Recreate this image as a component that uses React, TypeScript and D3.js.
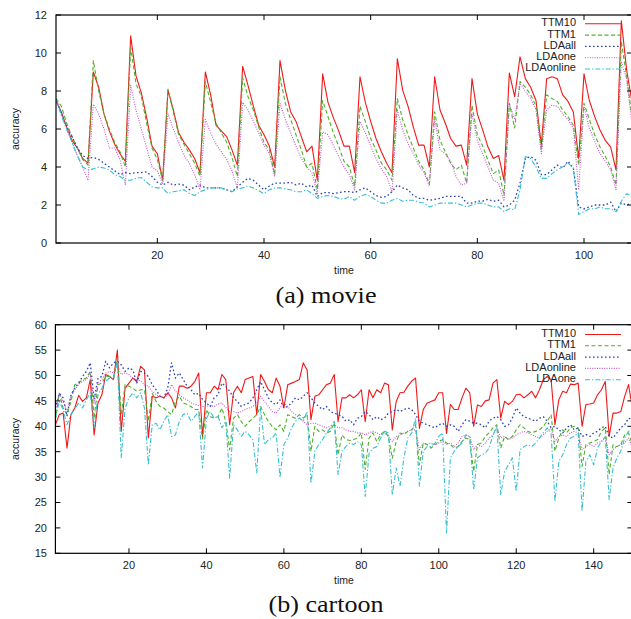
import React from 'react';
import * as d3 from 'd3';

// ---------- (a) movie ----------
const movieTTM10 = [7.5, 6.9, 6.1, 5.4, 5.0, 4.45, 4.2, 9.0, 8.2, 6.8, 5.9, 5.2, 4.7, 4.3, 10.9, 8.8, 7.9, 6.6, 5.1, 4.7, 3.3, 8.05, 7.0, 5.8, 5.3, 4.9, 4.45, 3.7, 9.0, 7.8, 6.2, 5.9, 5.6, 4.9, 4.1, 9.3, 8.3, 7.2, 6.2, 5.7, 5.1, 4.0, 9.6, 8.05, 6.9, 6.4, 5.6, 4.8, 5.1, 3.3, 8.9, 7.4, 6.6, 5.9, 5.1, 5.1, 3.7, 8.75, 7.4, 6.4, 5.5, 4.8, 4.2, 3.7, 9.7, 8.05, 7.2, 6.1, 5.15, 5.15, 4.0, 8.75, 7.0, 6.3, 5.5, 5.1, 5.15, 4.1, 8.65, 6.8, 5.95, 5.05, 4.45, 4.6, 3.3, 8.95, 7.7, 9.8, 8.65, 8.2, 7.5, 5.15, 8.65, 8.75, 8.65, 7.8, 7.45, 6.9, 4.45, 8.9, 7.5, 6.65, 5.95, 5.4, 5.05, 3.85, 11.7, 9.1, 7.4];
const movieTTM1 = [7.6, 7.2, 6.3, 5.6, 5.0, 4.4, 4.1, 9.6, 8.0, 6.8, 6.0, 5.3, 4.8, 4.0, 10.3, 8.4, 7.7, 6.3, 5.0, 4.4, 3.3, 8.1, 6.9, 5.7, 5.2, 4.7, 4.2, 3.5, 8.5, 7.4, 6.3, 5.8, 5.3, 4.5, 3.5, 8.7, 7.7, 7.0, 6.1, 5.3, 4.9, 3.6, 8.75, 7.35, 6.5, 5.7, 4.9, 4.0, 4.2, 2.8, 7.5, 6.65, 5.8, 5.1, 4.3, 4.0, 3.0, 7.2, 6.4, 5.5, 4.9, 4.2, 3.85, 3.3, 7.6, 6.5, 5.7, 5.0, 4.3, 3.85, 3.1, 6.9, 5.4, 4.8, 4.2, 3.85, 4.1, 3.15, 7.25, 5.7, 5.1, 4.35, 3.65, 3.85, 2.5, 7.35, 6.05, 8.5, 8.2, 7.8, 7.2, 4.9, 7.8, 7.6, 7.45, 7.0, 6.65, 6.2, 4.1, 7.35, 6.5, 5.7, 5.05, 4.55, 4.0, 3.05, 10.6, 8.75, 6.65];
const movieLDAall = [7.6, 6.8, 6.1, 5.6, 5.0, 4.6, 4.45, 4.5, 4.4, 4.2, 4.0, 3.8, 3.6, 3.7, 3.65, 3.7, 3.7, 3.75, 3.5, 3.2, 3.05, 3.2, 3.05, 3.1, 3.05, 2.8, 2.95, 3.05, 2.9, 2.9, 2.9, 2.9, 2.8, 2.7, 2.95, 3.2, 3.4, 3.3, 3.05, 2.8, 3.0, 3.15, 3.15, 3.15, 3.2, 3.05, 3.15, 2.95, 3.05, 2.45, 2.65, 2.65, 2.6, 2.65, 2.7, 2.7, 2.65, 2.8, 2.9, 2.7, 2.5, 2.4, 2.45, 2.7, 3.05, 2.9, 2.8, 2.5, 2.35, 2.35, 2.25, 2.3, 2.35, 2.45, 2.45, 2.45, 2.45, 2.1, 2.1, 2.2, 2.2, 2.3, 2.2, 2.25, 1.9, 2.0, 2.25, 3.15, 4.45, 4.55, 4.35, 3.6, 3.6, 3.85, 4.1, 3.95, 4.3, 3.95, 1.9, 1.8, 1.9, 2.0, 2.0, 2.0, 2.15, 1.65, 2.1, 2.0, 2.1];
const movieLDAone = [7.5, 6.8, 6.0, 5.3, 4.6, 4.0, 3.3, 7.3, 6.8, 6.0, 5.0, 5.0, 4.4, 3.05, 8.3, 7.0, 6.0, 5.0, 4.0, 3.8, 3.1, 6.8, 6.0, 5.3, 4.6, 4.2, 3.6, 2.8, 6.5, 5.8, 5.2, 4.8, 4.4, 3.8, 2.9, 7.4, 7.0, 6.4, 5.8, 5.15, 4.7, 3.5, 7.35, 6.5, 5.8, 5.1, 4.45, 4.0, 3.7, 2.6, 5.85, 5.7, 5.15, 4.55, 4.0, 3.6, 2.8, 6.4, 5.8, 5.1, 4.45, 3.9, 3.5, 2.7, 7.0, 5.95, 5.25, 4.7, 4.1, 3.7, 3.0, 6.5, 4.9, 4.7, 4.3, 3.5, 3.05, 3.15, 6.8, 5.4, 4.7, 4.0, 3.3, 3.15, 2.2, 7.35, 6.5, 8.4, 8.0, 7.6, 7.0, 4.7, 7.0, 7.25, 7.2, 6.8, 6.5, 6.05, 2.8, 7.2, 6.05, 5.35, 4.7, 4.3, 3.85, 2.8, 9.55, 8.6, 6.3];
const movieLDAonline = [7.6, 6.7, 6.0, 5.3, 4.6, 4.0, 3.85, 3.9, 4.0, 3.95, 3.85, 3.6, 3.5, 3.3, 3.3, 3.4, 3.45, 3.2, 2.95, 2.9, 2.9, 2.6, 2.7, 2.75, 2.8, 2.6, 2.5, 2.7, 2.8, 2.9, 2.9, 2.9, 2.8, 2.7, 2.85, 2.9, 3.0, 2.9, 2.75, 2.6, 2.8, 2.9, 2.9, 2.85, 2.8, 2.7, 2.7, 2.8, 2.6, 2.35, 2.45, 2.5, 2.45, 2.35, 2.3, 2.45, 2.25, 2.45, 2.55, 2.45, 2.25, 2.1, 2.1, 2.25, 2.35, 2.2, 2.25, 2.25, 2.15, 2.1, 1.9, 2.0, 2.1, 2.1, 2.1, 2.1, 2.0, 1.9, 2.0, 2.1, 2.1, 2.0, 1.9, 1.9, 1.65, 1.8, 1.75, 2.8, 4.55, 4.45, 4.0, 3.4, 3.4, 3.65, 3.85, 4.0, 4.2, 3.95, 1.5, 1.65, 1.8, 1.8, 1.9, 1.8, 1.8, 1.65, 2.2, 2.6, 2.45];
const movieNames = ['TTM10', 'TTM1', 'LDAall', 'LDAone', 'LDAonline'];
const movieXTicks = [20, 40, 60, 80, 100];
const movieYTicks = [0, 2, 4, 6, 8, 10, 12];

// ---------- (b) cartoon ----------
const cartoonTTM10 = [40.3, 42.3, 42.6, 35.7, 42.3, 43.6, 46.1, 44.9, 45.6, 49.2, 38.3, 44.6, 46.2, 50.2, 49.8, 49.2, 55.0, 39.0, 47.5, 48.5, 49.5, 48.8, 51.8, 51.1, 37.7, 45.9, 45.6, 45.9, 45.6, 46.6, 45.6, 43.6, 47.9, 47.9, 47.5, 47.9, 48.8, 50.5, 38.0, 46.6, 46.6, 47.9, 47.2, 50.2, 49.2, 40.3, 46.6, 47.9, 46.6, 49.2, 49.5, 49.8, 42.3, 50.2, 48.8, 47.2, 46.6, 49.5, 47.9, 43.6, 48.2, 48.5, 48.8, 49.2, 52.5, 51.1, 41.3, 45.9, 46.2, 47.2, 48.2, 48.5, 50.2, 40.9, 45.6, 45.6, 46.2, 45.6, 46.2, 47.2, 40.9, 47.2, 45.6, 47.2, 46.6, 48.5, 48.2, 39.3, 44.9, 46.6, 46.7, 47.9, 48.9, 49.5, 39.6, 43.3, 44.6, 44.9, 45.2, 46.6, 46.6, 38.6, 44.3, 43.3, 43.3, 45.6, 47.5, 46.6, 40.0, 44.2, 43.9, 45.0, 45.2, 48.5, 49.2, 41.6, 44.9, 44.3, 44.9, 46.2, 46.3, 45.6, 46.2, 46.9, 45.6, 47.2, 49.2, 49.8, 49.2, 40.3, 45.2, 46.9, 46.6, 48.3, 48.2, 48.5, 40.0, 44.3, 44.4, 44.6, 46.2, 47.2, 48.8, 38.0, 42.6, 42.6, 42.9, 45.9, 48.2, 43.6];
const cartoonTTM1 = [41.3, 46.5, 43.6, 42.3, 44.9, 48.2, 48.5, 49.2, 49.5, 50.8, 41.6, 48.2, 48.5, 49.8, 49.8, 49.5, 53.4, 42.3, 48.2, 47.9, 47.5, 46.9, 47.2, 47.2, 41.0, 46.5, 44.9, 43.9, 43.6, 42.9, 42.3, 44.9, 45.9, 44.6, 44.3, 43.9, 43.3, 43.3, 37.5, 43.3, 41.9, 41.6, 41.9, 43.6, 40.9, 35.4, 41.6, 42.3, 40.9, 40.0, 40.9, 41.6, 42.3, 43.9, 42.3, 40.9, 40.0, 39.3, 40.3, 39.0, 42.3, 41.9, 41.6, 42.3, 41.6, 42.3, 35.1, 40.0, 39.0, 39.3, 38.7, 39.0, 40.6, 34.4, 38.3, 37.4, 37.2, 37.4, 37.7, 38.7, 31.5, 37.7, 38.7, 37.0, 38.4, 39.0, 38.0, 33.7, 37.0, 38.7, 38.4, 39.0, 39.3, 40.3, 32.4, 36.7, 36.4, 35.7, 36.4, 37.0, 37.4, 36.7, 36.4, 35.7, 36.0, 37.0, 37.7, 37.4, 31.1, 36.4, 36.7, 38.0, 38.7, 39.7, 40.3, 35.7, 38.0, 37.4, 38.0, 39.3, 40.3, 39.7, 39.0, 38.7, 39.0, 39.3, 40.0, 41.0, 42.3, 35.1, 37.7, 39.3, 38.7, 39.7, 40.0, 39.7, 32.1, 36.4, 36.7, 37.0, 37.4, 39.0, 39.7, 30.5, 36.4, 36.0, 36.4, 38.3, 38.7, 36.4];
const cartoonLDAall = [43.6, 46.5, 45.6, 42.0, 46.2, 47.5, 48.5, 49.8, 50.8, 52.5, 45.3, 49.5, 49.8, 52.8, 51.5, 52.5, 52.8, 52.1, 50.8, 51.5, 51.1, 48.5, 50.8, 50.5, 49.8, 48.2, 47.2, 45.9, 45.6, 47.5, 52.5, 49.5, 50.5, 49.2, 47.9, 47.2, 46.2, 46.5, 45.3, 44.6, 43.9, 45.6, 46.2, 48.5, 47.9, 46.9, 45.6, 44.9, 43.9, 44.3, 44.6, 45.6, 47.2, 48.8, 47.2, 45.6, 44.6, 44.3, 45.2, 43.6, 43.9, 44.6, 45.6, 45.2, 45.9, 46.6, 45.6, 44.6, 43.9, 43.3, 43.9, 42.9, 42.6, 42.3, 42.0, 41.0, 41.3, 40.3, 41.6, 41.9, 42.9, 42.3, 41.3, 41.9, 41.3, 41.6, 42.6, 42.9, 43.3, 42.9, 43.3, 43.6, 43.3, 42.3, 41.0, 40.6, 40.3, 40.0, 39.7, 40.3, 40.6, 40.0, 40.3, 40.0, 39.0, 40.3, 41.3, 41.0, 40.6, 40.6, 40.3, 39.7, 41.0, 41.6, 41.9, 41.3, 40.0, 40.3, 41.6, 43.6, 42.6, 41.9, 41.6, 41.3, 41.0, 41.6, 41.9, 41.0, 39.7, 40.0, 39.3, 38.7, 39.7, 40.3, 39.3, 39.7, 38.0, 38.4, 38.0, 38.7, 39.0, 39.7, 40.0, 38.0, 37.7, 38.7, 39.7, 40.3, 41.6, 41.3];
const cartoonLDAonline = [43.3, 46.5, 44.9, 42.9, 45.9, 47.2, 48.2, 48.9, 49.2, 50.5, 44.6, 48.5, 49.2, 50.5, 50.8, 50.5, 52.1, 50.2, 50.5, 50.2, 49.5, 49.2, 48.9, 48.2, 47.9, 46.9, 46.2, 45.9, 45.6, 46.2, 48.2, 46.9, 46.2, 45.6, 45.2, 44.6, 44.3, 44.1, 43.9, 43.9, 44.1, 43.9, 44.4, 44.6, 43.7, 42.9, 42.9, 42.6, 42.9, 43.3, 43.6, 43.9, 44.6, 45.9, 44.9, 43.9, 42.9, 42.6, 43.6, 44.6, 43.9, 42.9, 42.3, 41.6, 41.0, 40.3, 40.6, 40.6, 40.3, 40.0, 39.7, 40.0, 40.3, 39.7, 39.7, 39.3, 39.0, 39.0, 38.7, 38.7, 38.3, 38.7, 39.0, 38.7, 38.3, 38.7, 38.0, 37.0, 38.0, 38.3, 38.7, 39.0, 39.3, 39.3, 35.4, 36.7, 36.4, 36.7, 36.4, 36.7, 37.0, 36.4, 36.7, 36.0, 36.7, 38.0, 38.3, 38.0, 35.4, 36.4, 36.0, 36.7, 37.7, 38.3, 39.7, 37.7, 38.0, 37.4, 37.7, 38.3, 38.7, 39.0, 38.7, 38.3, 38.0, 37.7, 38.3, 39.0, 39.7, 37.0, 38.0, 38.3, 38.0, 38.7, 39.0, 38.7, 35.4, 36.0, 36.4, 36.0, 36.7, 37.0, 37.7, 34.4, 35.4, 36.0, 36.4, 36.7, 37.7, 35.7];
const cartoonLDAone = [41.6, 44.9, 43.3, 40.3, 42.3, 43.3, 44.6, 43.6, 45.2, 46.6, 39.7, 46.2, 47.5, 48.9, 49.5, 49.2, 52.8, 33.8, 43.6, 45.6, 46.6, 45.6, 46.6, 43.6, 32.4, 40.3, 40.6, 39.3, 41.0, 42.3, 38.0, 38.3, 41.0, 42.3, 42.6, 41.0, 41.9, 42.9, 31.8, 41.6, 42.9, 41.6, 42.0, 39.7, 41.0, 29.8, 40.3, 39.3, 38.0, 39.0, 38.3, 37.4, 30.8, 43.6, 36.4, 37.4, 37.7, 38.7, 29.9, 36.4, 37.7, 39.7, 41.0, 41.6, 41.0, 42.9, 28.8, 35.1, 36.4, 37.4, 38.7, 39.7, 41.0, 30.5, 35.1, 36.0, 36.7, 36.4, 37.0, 36.4, 26.2, 34.7, 35.7, 36.0, 37.7, 39.0, 38.7, 26.5, 31.8, 28.2, 33.8, 37.7, 38.7, 41.6, 28.2, 35.1, 36.0, 36.0, 36.7, 38.0, 38.7, 19.0, 33.8, 35.1, 36.0, 36.7, 38.3, 38.0, 27.5, 33.8, 34.4, 34.7, 35.7, 38.3, 40.0, 26.5, 31.1, 32.4, 33.8, 27.2, 35.4, 36.0, 36.4, 36.0, 36.7, 37.7, 38.7, 39.7, 38.7, 25.2, 33.1, 34.4, 36.4, 37.7, 38.0, 38.7, 23.3, 33.1, 34.4, 32.4, 35.7, 37.0, 38.0, 25.6, 31.8, 33.8, 35.1, 37.7, 39.0, 39.7];
const cartoonNames = ['TTM10', 'TTM1', 'LDAall', 'LDAonline', 'LDAone'];
const cartoonXTicks = [20, 40, 60, 80, 100, 120, 140];
const cartoonYTicks = [15, 20, 25, 30, 35, 40, 45, 50, 55, 60];

// line styles, in legend order (colour by position)
const STYLES = [
  { color: '#f01818', dash: undefined, width: 1.1 },
  { color: '#4fb02c', dash: '4,2.5', width: 1.1 },
  { color: '#2a44b8', dash: '1.6,2.4', width: 1.3 },
  { color: '#c256c8', dash: '1,1.4', width: 1.1 },
  { color: '#38bfd0', dash: '5,2,1.3,2', width: 1.1 },
];

const SANS = '"Liberation Sans", Arial, Helvetica, sans-serif';
const SERIF = '"Liberation Serif", "Times New Roman", serif';

type PanelProps = {
  id: string;
  series: number[][];
  names: string[];
  xDomain: [number, number];
  xRange: [number, number];
  yDomain: [number, number];
  yRange: [number, number];
  xTicks: number[];
  yTicks: number[];
  legendTop: number;
  timeY: number;
  tickLabelY: number;
  title: string;
  titleY: number;
  titleWidth: number;
};

function Panel(p: PanelProps) {
  const x = d3.scaleLinear().domain(p.xDomain).range(p.xRange);
  const y = d3.scaleLinear().domain(p.yDomain).range(p.yRange);
  const [x0, x1] = p.xRange;
  const [yb, yt] = p.yRange;
  const line = d3
    .line<number>()
    .x((_, i) => x(i + 1))
    .y((d) => y(d));
  const tl = 5;
  const legendTextX = 576;
  const legendLine: [number, number] = [585, 621];
  const rowH = 11.3;
  return (
    <g>
      <defs>
        <clipPath id={`clip-${p.id}`}>
          <rect x={x0} y={yt} width={x1 - x0} height={yb - yt} />
        </clipPath>
      </defs>
      <g clipPath={`url(#clip-${p.id})`}>
        {p.series.map((s, k) => (
          <path
            key={k}
            d={line(s) || ''}
            fill="none"
            stroke={STYLES[k].color}
            strokeWidth={STYLES[k].width}
            strokeDasharray={STYLES[k].dash}
            strokeLinejoin="round"
          />
        ))}
      </g>
      {/* frame */}
      <rect x={x0} y={yt} width={x1 - x0} height={yb - yt} fill="none" stroke="#000" strokeWidth={1.2} />
      {/* y ticks */}
      {p.yTicks.map((t) => (
        <g key={`y${t}`}>
          <line x1={x0} x2={x0 + tl} y1={y(t)} y2={y(t)} stroke="#000" />
          <line x1={x1} x2={x1 - tl} y1={y(t)} y2={y(t)} stroke="#000" />
          <text x={47} y={y(t)} dy="0.35em" textAnchor="end" fontFamily={SANS} fontSize={11} fill="#222">
            {t}
          </text>
        </g>
      ))}
      {/* x ticks */}
      {p.xTicks.map((t) => (
        <g key={`x${t}`}>
          <line x1={x(t)} x2={x(t)} y1={yb} y2={yb - tl} stroke="#000" />
          <line x1={x(t)} x2={x(t)} y1={yt} y2={yt + tl} stroke="#000" />
          <text x={x(t)} y={p.tickLabelY} textAnchor="middle" fontFamily={SANS} fontSize={11} fill="#222">
            {t}
          </text>
        </g>
      ))}
      {/* axis labels */}
      <text x={344} y={p.timeY} textAnchor="middle" fontFamily={SANS} fontSize={10.5} fill="#222">
        time
      </text>
      <text
        transform={`translate(18.5,${(yb + yt) / 2}) rotate(-90)`}
        textAnchor="middle"
        fontFamily={SANS}
        fontSize={10.5}
        fill="#222"
      >
        accuracy
      </text>
      {/* legend */}
      {p.names.map((n, k) => {
        const ly = p.legendTop + k * rowH;
        return (
          <g key={n}>
            <text x={legendTextX} y={ly} dy="0.36em" textAnchor="end" fontFamily={SANS} fontSize={11} fill="#222">
              {n}
            </text>
            <line
              x1={legendLine[0]}
              x2={legendLine[1]}
              y1={ly + 1.5}
              y2={ly + 1.5}
              stroke={STYLES[k].color}
              strokeWidth={STYLES[k].width}
              strokeDasharray={STYLES[k].dash}
            />
          </g>
        );
      })}
      {/* caption */}
      <text
        x={326}
        y={p.titleY}
        textAnchor="middle"
        fontFamily={SERIF}
        fontSize={24}
        fill="#111"
        textLength={p.titleWidth}
        lengthAdjust="spacingAndGlyphs"
      >
        {p.title}
      </text>
    </g>
  );
}

export default function App() {
  return (
    <svg
      width={631}
      height={619}
      viewBox="0 0 631 619"
      style={{ position: 'absolute', left: 0, top: 0, background: '#fff' }}
    >
      <rect x={0} y={0} width={631} height={619} fill="#fff" />
      <Panel
        id="movie"
        series={[movieTTM10, movieTTM1, movieLDAall, movieLDAone, movieLDAonline]}
        names={movieNames}
        xDomain={[1, 109]}
        xRange={[56, 632]}
        yDomain={[0, 12]}
        yRange={[243, 15]}
        xTicks={movieXTicks}
        yTicks={movieYTicks}
        legendTop={22.3}
        timeY={273.5}
        tickLabelY={258.5}
        title="(a) movie"
        titleY={303}
        titleWidth={101}
      />
      <Panel
        id="cartoon"
        series={[cartoonTTM10, cartoonTTM1, cartoonLDAall, cartoonLDAonline, cartoonLDAone]}
        names={cartoonNames}
        xDomain={[1, 150]}
        xRange={[55.4, 632.4]}
        yDomain={[15, 60]}
        yRange={[553.3, 324.7]}
        xTicks={cartoonXTicks}
        yTicks={cartoonYTicks}
        legendTop={333}
        timeY={583.5}
        tickLabelY={568.5}
        title="(b) cartoon"
        titleY={611.5}
        titleWidth={115}
      />
    </svg>
  );
}
